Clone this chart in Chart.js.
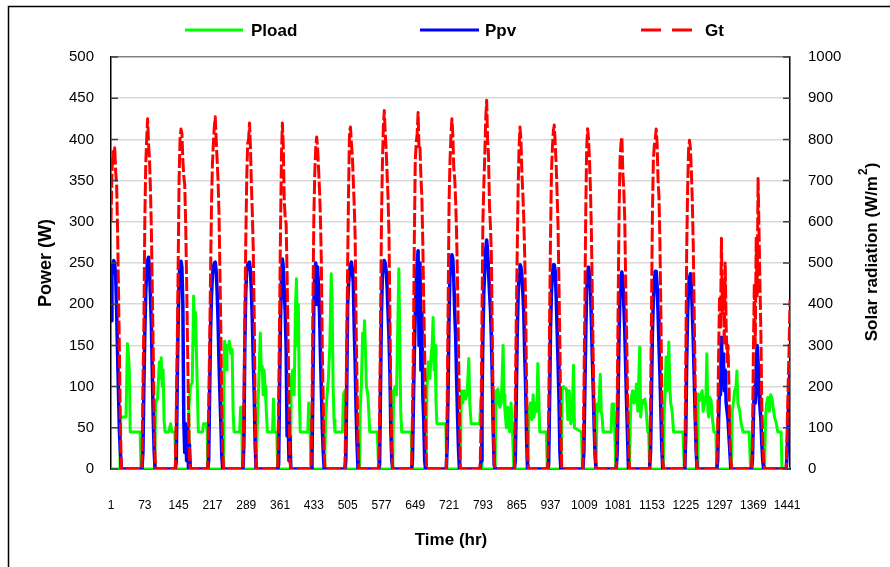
<!DOCTYPE html>
<html>
<head>
<meta charset="utf-8">
<script src="https://cdn.jsdelivr.net/npm/chart.js@4.4.1/dist/chart.umd.min.js"></script>
<style>
  html, body { margin: 0; padding: 0; background: #fff; }
</style>
</head>
<body>
<canvas id="pvChart" width="890" height="567"></canvas>
<script>
// tick labels on the time axis
const timeTicks = [1, 73, 145, 217, 289, 361, 433, 505, 577, 649, 721, 793, 865, 937, 1009, 1081, 1153, 1225, 1297, 1369, 1441];

// daylight blocks: [first hour, value, value, ...] read every 2 hours
const sampleStep = 2;

// Gt, solar radiation (W/m2)
const gtDays = [
  [1, 600, 720, 770, 740, 780, 720, 690, 580, 430, 280, 110, 0],
  [67, 0, 200, 350, 600, 740, 800, 850, 790, 750, 680, 580, 430, 280, 120, 20, 0],
  [138, 0, 140, 290, 490, 700, 800, 825, 815, 750, 710, 690, 600, 460, 300, 150, 30, 0],
  [207, 0, 150, 300, 470, 640, 740, 790, 830, 855, 800, 750, 700, 620, 480, 330, 150, 40, 0],
  [282, 0, 160, 360, 550, 700, 790, 800, 840, 780, 690, 620, 530, 370, 140, 0],
  [356, 0, 160, 370, 580, 760, 840, 780, 650, 610, 595, 470, 320, 160, 20, 0],
  [427, 0, 140, 400, 610, 720, 780, 806, 780, 730, 680, 610, 500, 290, 160, 40, 0],
  [499, 0, 120, 300, 500, 680, 820, 830, 790, 760, 700, 640, 560, 350, 200, 70, 0],
  [571, 0, 120, 360, 600, 740, 830, 870, 815, 775, 715, 660, 570, 370, 170, 50, 0],
  [641, 0, 130, 300, 560, 750, 790, 814, 865, 775, 780, 710, 660, 550, 400, 285, 100, 0],
  [715, 0, 160, 400, 650, 750, 810, 850, 810, 730, 705, 650, 570, 450, 300, 140, 0],
  [787, 0, 100, 370, 600, 690, 760, 850, 895, 800, 760, 640, 590, 525, 330, 140, 20, 0],
  [860, 0, 160, 360, 520, 680, 780, 830, 800, 720, 670, 610, 520, 400, 200, 40, 0],
  [931, 0, 120, 360, 560, 720, 780, 820, 835, 790, 740, 670, 590, 450, 300, 100, 0],
  [1006, 0, 180, 380, 620, 780, 826, 800, 750, 680, 580, 420, 260, 140, 40, 0],
  [1077, 0, 150, 400, 620, 750, 790, 806, 720, 680, 610, 460, 330, 180, 80, 0],
  [1148, 0, 150, 380, 620, 750, 785, 800, 825, 790, 700, 660, 550, 380, 180, 20, 0],
  [1223, 0, 250, 530, 680, 775, 798, 778, 720, 650, 540, 380, 210, 60, 0],
  [1291, 0, 100, 280, 420, 340, 560, 380, 450, 300, 500, 350, 260, 300, 200, 80, 20, 0],
  [1365, 0, 60, 280, 450, 300, 560, 420, 705, 580, 450, 330, 150, 70, 20, 0],
  [1439, 0, 100, 200, 290, 410]
];

// Ppv, PV power (W)
const ppvDays = [
  [1, 180, 235, 250, 253, 248, 235, 192, 140, 90, 45, 20, 0],
  [67, 0, 20, 100, 165, 215, 240, 253, 257, 240, 210, 175, 115, 60, 20, 0],
  [138, 0, 10, 100, 180, 230, 250, 252, 245, 200, 60, 20, 55, 10, 50, 0, 30, 0],
  [207, 0, 10, 90, 165, 210, 235, 245, 250, 251, 240, 215, 180, 130, 90, 55, 15, 0],
  [282, 0, 30, 150, 215, 240, 248, 250, 251, 240, 215, 180, 130, 90, 30, 0],
  [356, 0, 5, 100, 180, 230, 255, 245, 215, 190, 145, 40, 70, 10, 40, 0],
  [427, 0, 10, 100, 200, 240, 250, 200, 245, 220, 190, 140, 95, 50, 20, 0],
  [499, 0, 10, 95, 200, 225, 240, 248, 251, 242, 225, 170, 128, 70, 30, 0],
  [571, 0, 5, 100, 190, 235, 248, 253, 250, 240, 220, 190, 160, 115, 45, 10, 0],
  [641, 0, 10, 80, 140, 190, 225, 250, 265, 150, 250, 120, 190, 90, 60, 10, 0],
  [715, 0, 30, 100, 190, 240, 252, 260, 255, 230, 190, 160, 110, 65, 25, 0],
  [787, 0, 10, 80, 160, 215, 240, 265, 278, 265, 240, 215, 195, 160, 110, 45, 5, 0],
  [860, 0, 10, 80, 160, 210, 235, 248, 245, 235, 215, 190, 140, 100, 40, 0],
  [931, 0, 5, 80, 170, 215, 235, 248, 248, 240, 210, 170, 130, 85, 20, 0],
  [1006, 0, 20, 90, 165, 215, 238, 245, 238, 222, 180, 135, 95, 50, 15, 0],
  [1077, 0, 20, 90, 165, 215, 232, 239, 228, 200, 170, 125, 80, 40, 0],
  [1148, 0, 20, 90, 165, 205, 228, 240, 240, 222, 190, 150, 115, 70, 25, 0],
  [1223, 0, 40, 130, 190, 222, 232, 237, 222, 190, 155, 110, 65, 25, 0],
  [1291, 0, 10, 60, 100, 90, 160, 110, 140, 95, 120, 80, 70, 60, 40, 20, 0],
  [1365, 0, 10, 60, 100, 80, 123, 150, 130, 90, 75, 60, 30, 10, 0],
  [1439, 0, 20, 60, 100, 120]
];

// Pload, load (W) as [hour, W]
const ploadPoints = [
  [1, 0], [20, 0], [22, 63], [33, 63], [36, 152], [38, 140], [40, 120], [42, 45], [63, 45], [65, 0],
  [94, 0], [96, 80], [100, 85], [104, 130], [106, 110], [108, 135], [110, 100], [112, 120], [114, 60], [116, 45], [124, 45], [128, 55], [131, 45], [137, 45], [139, 0],
  [166, 0], [167, 75], [170, 100], [174, 105], [177, 210], [179, 150], [181, 190], [183, 140], [185, 95], [187, 45], [196, 45], [198, 55], [204, 55], [206, 45], [207, 0],
  [240, 0], [241, 90], [243, 155], [246, 120], [248, 150], [250, 145], [253, 155], [256, 140], [259, 145], [261, 70], [263, 45], [275, 45], [277, 75], [279, 75], [281, 0],
  [310, 0], [313, 60], [316, 110], [319, 165], [321, 120], [323, 125], [325, 90], [327, 120], [329, 100], [331, 80], [334, 45], [345, 45], [347, 85], [349, 45], [354, 45], [356, 0],
  [383, 0], [385, 110], [388, 120], [391, 90], [394, 200], [396, 231], [398, 150], [400, 200], [402, 90], [404, 45], [420, 45], [422, 80], [425, 45], [427, 0],
  [456, 0], [458, 60], [461, 90], [464, 110], [467, 150], [470, 237], [472, 200], [474, 100], [476, 60], [478, 45], [494, 45], [496, 90], [499, 95], [501, 0],
  [530, 0], [532, 75], [534, 100], [537, 165], [539, 150], [541, 180], [543, 140], [545, 100], [548, 90], [550, 70], [552, 45], [568, 45], [571, 0],
  [601, 0], [603, 95], [606, 100], [609, 90], [612, 180], [614, 243], [616, 160], [618, 70], [620, 45], [640, 45], [643, 0],
  [672, 0], [674, 100], [677, 130], [680, 110], [683, 140], [685, 150], [687, 184], [689, 120], [691, 150], [693, 85], [695, 55], [714, 55], [716, 0],
  [745, 0], [747, 95], [750, 80], [753, 95], [756, 85], [759, 90], [761, 110], [763, 134], [765, 80], [768, 55], [786, 55], [789, 85], [791, 0],
  [819, 0], [821, 95], [823, 80], [825, 97], [827, 85], [829, 75], [832, 80], [834, 110], [836, 150], [838, 90], [840, 70], [843, 50], [846, 75], [848, 55], [850, 45], [853, 80], [856, 45], [859, 0],
  [889, 0], [891, 70], [894, 80], [897, 60], [900, 90], [902, 63], [905, 80], [908, 70], [910, 128], [912, 90], [914, 45], [928, 45], [930, 0],
  [960, 0], [962, 95], [965, 100], [968, 98], [971, 97], [974, 60], [977, 95], [980, 55], [983, 60], [986, 126], [988, 50], [1003, 45], [1005, 0],
  [1034, 0], [1036, 79], [1039, 70], [1041, 90], [1043, 115], [1045, 70], [1047, 63], [1049, 45], [1066, 45], [1068, 79], [1072, 79], [1074, 40], [1076, 0],
  [1105, 0], [1107, 60], [1109, 87], [1112, 95], [1115, 80], [1118, 90], [1120, 103], [1123, 70], [1125, 110], [1127, 148], [1129, 63], [1132, 83], [1135, 80], [1138, 85], [1141, 70], [1144, 45], [1146, 45], [1148, 0],
  [1177, 0], [1179, 70], [1181, 90], [1183, 136], [1185, 95], [1187, 110], [1189, 154], [1191, 100], [1193, 80], [1196, 70], [1199, 45], [1219, 45], [1222, 0],
  [1249, 0], [1251, 91], [1254, 83], [1257, 90], [1260, 95], [1262, 70], [1265, 79], [1268, 90], [1270, 140], [1272, 70], [1274, 63], [1276, 87], [1279, 83], [1282, 60], [1285, 45], [1289, 45], [1291, 0],
  [1322, 0], [1324, 71], [1327, 83], [1329, 95], [1332, 100], [1334, 119], [1336, 80], [1338, 75], [1340, 70], [1343, 55], [1347, 45], [1360, 45], [1363, 0],
  [1393, 0], [1395, 63], [1397, 79], [1400, 87], [1403, 70], [1406, 90], [1409, 85], [1411, 75], [1414, 63], [1418, 55], [1421, 45], [1428, 45], [1430, 0], [1447, 0]
];

const FONT = '"Liberation Sans", Arial, sans-serif';

function dayPoints(days) {
  let pts = [];
  days.forEach(d => {
    d.slice(1).forEach((v, k) => pts.push({ x: d[0] + k * sampleStep, y: v }));
  });
  return pts;
}

// ================= EXTRA DRAWING =================
// frame, inward tick marks, legend, axis titles
const decorations = {
  id: "decorations",
  afterDraw(chart) {
    const ctx = chart.ctx;
    const area = chart.chartArea;
    const y = chart.scales.y;
    const y2 = chart.scales.y2;
    ctx.save();

    ctx.strokeStyle = "#000";
    ctx.lineWidth = 1.5;
    ctx.strokeRect(8.5, 6.5, 1000, 1000);

    ctx.strokeStyle = "#404040";
    ctx.beginPath();
    y.ticks.forEach(t => {
      let py = y.getPixelForValue(t.value);
      ctx.moveTo(area.left, py);
      ctx.lineTo(area.left + 7, py);
    });
    y2.ticks.forEach(t => {
      let py = y2.getPixelForValue(t.value);
      ctx.moveTo(area.right - 7, py);
      ctx.lineTo(area.right, py);
    });
    ctx.stroke();

    // legend
    const slots = [[185, 243, 251], [420, 479, 485], [641, 692, 705]];
    ctx.font = "bold 17px " + FONT;
    ctx.textBaseline = "middle";
    ctx.textAlign = "left";
    chart.data.datasets.forEach((ds, i) => {
      let s = slots[i];
      ctx.strokeStyle = ds.borderColor;
      ctx.lineWidth = 3;
      ctx.setLineDash(ds.borderDash.length ? [20, 11] : []);
      ctx.beginPath();
      ctx.moveTo(s[0], 30);
      ctx.lineTo(s[1], 30);
      ctx.stroke();
      ctx.setLineDash([]);
      ctx.fillStyle = "#000";
      ctx.fillText(ds.label, s[2], 31);
    });

    // axis titles
    ctx.textAlign = "center";
    ctx.fillText("Time (hr)", 451, 540);

    ctx.save();
    ctx.translate(46, 263);
    ctx.rotate(-Math.PI / 2);
    ctx.font = "bold 18px " + FONT;
    ctx.fillText("Power (W)", 0, 0);
    ctx.restore();

    ctx.save();
    ctx.translate(872, 252);
    ctx.rotate(-Math.PI / 2);
    const main = "Solar radiation (W/m";
    ctx.font = "bold 17px " + FONT;
    let w1 = ctx.measureText(main).width;
    let w3 = ctx.measureText(")").width;
    ctx.font = "bold 12px " + FONT;
    let w2 = ctx.measureText("2").width + 1;
    let x0 = -(w1 + w2 + w3) / 2;
    ctx.textAlign = "left";
    ctx.font = "bold 17px " + FONT;
    ctx.fillText(main, x0, 0);
    ctx.font = "bold 12px " + FONT;
    ctx.fillText("2", x0 + w1 + 1, -8);
    ctx.font = "bold 17px " + FONT;
    ctx.fillText(")", x0 + w1 + w2, 0);
    ctx.restore();

    ctx.restore();
  }
};

// ================= CHART =================
const ctx = document.getElementById("pvChart").getContext("2d");

new Chart(ctx, {
  type: "line",
  data: {
    datasets: [
      {
        label: "Pload",
        data: ploadPoints.map(p => ({ x: p[0], y: p[1] })),
        borderColor: "#00ff00",
        borderWidth: 3,
        borderDash: [],
        yAxisID: "y",
        order: 2
      },
      {
        label: "Ppv",
        data: dayPoints(ppvDays),
        borderColor: "#0000ff",
        borderWidth: 3.5,
        borderDash: [],
        yAxisID: "y",
        order: 1
      },
      {
        label: "Gt",
        data: dayPoints(gtDays),
        borderColor: "#ff0000",
        borderWidth: 3,
        borderDash: [14, 3],
        yAxisID: "y2",
        order: 0
      }
    ]
  },
  options: {
    responsive: false,
    animation: false,
    devicePixelRatio: 1,
    layout: { padding: { top: 57, left: 0, right: 0, bottom: 0 } },
    elements: {
      point: { radius: 0 },
      line: { tension: 0, borderJoinStyle: "round", fill: false }
    },
    plugins: {
      legend: { display: false },
      tooltip: { enabled: false }
    },
    scales: {
      x: {
        type: "linear",
        min: 1,
        max: 1447,
        afterBuildTicks: scale => {
          scale.ticks = timeTicks.map(v => ({ value: v }));
        },
        afterFit: scale => { scale.height = 98; },
        grid: { display: false },
        border: { color: "#000", width: 1.5 },
        ticks: {
          autoSkip: false,
          maxRotation: 0,
          padding: 21,
          color: "#000",
          font: { family: FONT, size: 12 },
          callback: v => String(v)
        }
      },
      y: {
        position: "left",
        min: 0,
        max: 500,
        afterFit: scale => { scale.width = 111; },
        grid: {
          drawTicks: false,
          lineWidth: 1.5,
          color: c => (c.tick && c.tick.value === 500 ? "#7f7f7f" : "#d9d9d9")
        },
        border: { color: "#000", width: 1.5 },
        ticks: {
          stepSize: 50,
          padding: 17,
          color: "#000",
          font: { family: FONT, size: 15 },
          callback: v => String(v)
        }
      },
      y2: {
        position: "right",
        min: 0,
        max: 1000,
        afterFit: scale => { scale.width = 100; },
        grid: { display: false, drawTicks: false },
        border: { color: "#000", width: 1.5 },
        ticks: {
          stepSize: 100,
          padding: 18,
          color: "#000",
          font: { family: FONT, size: 15 },
          callback: v => String(v)
        }
      }
    }
  },
  plugins: [decorations]
});
</script>
</body>
</html>
